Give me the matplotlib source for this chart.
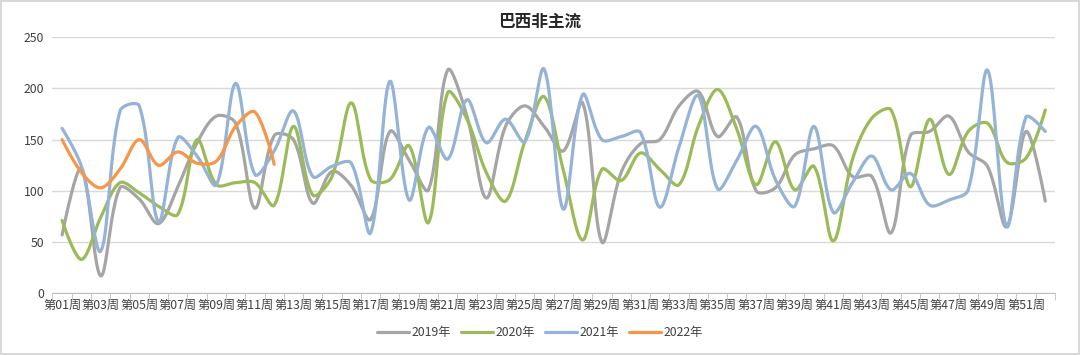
import numpy as np
import matplotlib
matplotlib.use("Agg")
import matplotlib.pyplot as plt

plt.rcParams['font.family'] = ['Noto Sans CJK SC', 'DejaVu Sans']

# 数据
weeks = ["第%02d周" % i for i in range(1, 53)]

y2019 = [57, 122, 17, 103, 92, 68, 104, 147, 173, 166, 83, 154, 150, 88, 119, 105, 72,
         158, 130, 101, 218, 173, 93, 163, 183, 163, 139, 186, 50, 118, 146, 150, 183,
         197, 153, 172, 100, 103, 135, 141, 144, 114, 114, 59, 154, 158, 173, 138, 124,
         65, 158, 90]
y2020 = [71, 33, 74, 108, 98, 85, 77, 150, 106, 108, 108, 86, 163, 96, 114, 186, 111,
         111, 144, 69, 196, 170, 118, 90, 148, 192, 120, 52, 121, 110, 137, 121, 106,
         163, 199, 160, 106, 148, 101, 124, 51, 131, 171, 179, 104, 170, 116, 158, 166,
         128, 132, 179]
y2021 = [161, 124, 41, 178, 183, 70, 152, 134, 106, 205, 116, 139, 178, 114, 124, 127,
         59, 207, 91, 162, 131, 189, 147, 170, 148, 219, 82, 194, 150, 153, 157, 84, 143,
         193, 102, 130, 163, 111, 85, 163, 79, 108, 134, 101, 117, 86, 91, 101, 218, 65,
         172, 158]
y2022 = [150, 118, 103, 121, 150, 125, 138, 127, 129, 163, 177, 126]

series = [("2019年", y2019, "#A5A5A5"),
          ("2020年", y2020, "#9BBB59"),
          ("2021年", y2021, "#95B3D7"),
          ("2022年", y2022, "#F79646")]

# 屏幕上 x 一格 ~19.3px, y 一个单位 ~1.02px
XPX, YPX = 19.28, 1.024


def smooth(vals, steps=24):
    # 类似 Excel 平滑线: 贝塞尔, 控制点按相邻段长度分配
    p = np.column_stack([np.arange(len(vals), dtype=float), np.array(vals, dtype=float)])
    n = len(p)

    def dist(a, b):
        return np.hypot((a[0] - b[0]) * XPX, (a[1] - b[1]) * YPX)

    xs, ys = [], []
    t = np.linspace(0, 1, steps)[:, None]
    for i in range(n - 1):
        p0 = p[i - 1] if i > 0 else p[i]
        p3 = p[i + 2] if i + 2 < n else p[i + 1]
        d01, d12, d23 = dist(p0, p[i]), dist(p[i], p[i + 1]), dist(p[i + 1], p3)
        f1 = d12 / (d01 + d12) / 1.5 if d01 > 0 else 0
        f2 = d12 / (d12 + d23) / 1.5 if d23 > 0 else 0
        c1 = p[i] + (p[i + 1] - p0) * f1 / 2
        c2 = p[i + 1] - (p3 - p[i]) * f2 / 2
        b = ((1 - t) ** 3) * p[i] + 3 * ((1 - t) ** 2) * t * c1 + 3 * (1 - t) * t ** 2 * c2 + t ** 3 * p[i + 1]
        xs.extend(b[:, 0])
        ys.extend(b[:, 1])
    return xs, ys


fig = plt.figure(figsize=(10.8, 3.55), dpi=100)
fig.patch.set_edgecolor("#D9D9D9")
fig.patch.set_linewidth(1.5)
ax = fig.add_axes([0.0486, 0.174, 0.9282, 0.721])

for name, vals, col in series:
    sx, sy = smooth(vals)
    ax.plot(sx, sy, color=col, lw=2.3, label=name, solid_capstyle="round")

ax.set_xlim(-0.5, 51.5)
ax.set_ylim(0, 250)
ax.set_yticks(range(0, 251, 50))
ax.yaxis.grid(True, color="#D9D9D9", lw=1)
ax.set_axisbelow(True)
for s in ["top", "right", "left"]:
    ax.spines[s].set_visible(False)
ax.spines["bottom"].set_color("#BFBFBF")

ax.set_xticks(range(0, 52, 2))
ax.set_xticklabels(weeks[::2], fontsize=8.8, color="#404040")
ax.set_xticks(np.arange(-0.5, 52, 1), minor=True)
ax.tick_params(axis="x", which="major", length=0, pad=4)
ax.tick_params(axis="x", which="minor", length=5, color="#BFBFBF")
ax.tick_params(axis="y", length=0, labelsize=8.8, labelcolor="#404040", pad=6)

fig.text(0.5, 0.94, "巴西非主流", ha="center", va="center", fontsize=12, fontweight="bold", color="#262626")

fig.legend(loc="center", bbox_to_anchor=(0.5, 0.062), ncol=4, frameon=False, fontsize=8.8,
           handlelength=2.6, handletextpad=0.25, columnspacing=0.8, labelcolor="#404040")

fig.savefig("out.png", dpi=100)
